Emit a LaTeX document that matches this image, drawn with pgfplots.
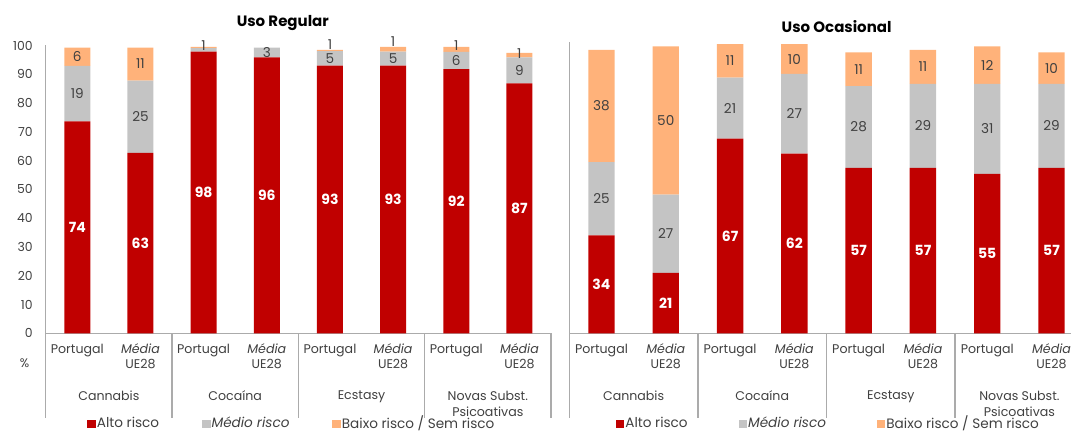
\documentclass[border=0pt]{standalone}
\usepackage{fontspec}
\setmainfont{Poppins}
\usepackage{pgfplots}
\usepackage{pgfplotstable}
\pgfplotsset{compat=1.18}

\definecolor{cred}{HTML}{C00000}
\definecolor{cgray}{HTML}{C4C4C4}
\definecolor{corange}{HTML}{FFB27A}
\definecolor{axgray}{HTML}{ABABAB}
\definecolor{txt}{HTML}{404040}

% x: position; a/m/b: Alto/Medio/Baixo heights; la/lm/lb: printed labels; oa/om/ob: label offsets
\pgfplotstableread{
x a m b la lm lb oa om ob
0 73.6 19.3 6.4 74 19 6 0 0 0
1 62.7 25.1 11.5 63 25 11 0 0 0
2 97.9 1.2 0.4 98 1 {} 0 1.3 0
3 95.9 3.4 0 96 3 {} 0 0 0
4 93 5 0.5 93 5 1 0 0 2
5 93 4.9 1.6 93 5 1 0 0 2.7
6 91.8 6 1.7 92 6 1 0 0 1.4
7 86.8 9.1 1.5 87 9 1 0 0 0.5
}\regdata

\pgfplotstableread{
x a m b la lm lb oa om ob
0 34 25.5 39 34 25 38 0 0 0
1 21 27.2 51.5 21 27 50 0 0 0
2 67.6 21.2 11.7 67 21 11 0 0 0
3 62.4 27.7 10.4 62 27 10 0 0 0
4 57.5 28.4 11.7 57 28 11 0 0 0
5 57.5 29.2 11.8 57 29 11 0 0 0
6 55.4 31.3 13 55 31 12 0 0 0
7 57.5 29.2 10.9 57 29 10 0 0 0
}\ocadata

% labels sit at the middle of each stacked segment; the offset column moves small ones up
\pgfplotsset{
  seglabel/.style={
    nodes near coords,
    point meta=explicit symbolic,
    visualization depends on={\thisrow{#1} \as \segoff},
    every node near coord/.append style={anchor=center, inner sep=0pt,
      yshift={\segoff*1.439pt}},
  },
  sqlegend/.style={legend image code/.code={\fill[##1] (0pt,-2.1pt) rectangle (4.2pt,2.1pt);}},
  panel/.style={
    scale only axis,
    ybar stacked,
    xmin=-0.5, xmax=7.5, ymin=0,
    axis x line*=bottom, axis y line*=left,
    axis line style={axgray, line width=0.6pt},
    xtick={0,...,7},
    xticklabels={Portugal,{\textit{Média}\\UE28},Portugal,{\textit{Média}\\UE28},Portugal,{\textit{Média}\\UE28},Portugal,{\textit{Média}\\UE28}},
    xtick style={draw=none}, ytick style={draw=none},
    xticklabel style={align=center, anchor=north, inner sep=0pt, yshift=-5.2pt,
      font=\fontsize{6.3}{7.5}\selectfont, text=txt},
    clip=false,
    legend columns=3,
    legend style={draw=none, fill=none, inner sep=0pt, outer sep=0pt, anchor=west,
      font=\fontsize{6.8}{8}\selectfont, text=txt,
      nodes={inner sep=0.5pt}},
  },
}

\newcommand{\groupdeco}{%
  \pgfplotsinvokeforeach{-0.5,1.5,3.5,5.5,7.5}{
    \draw[axgray, line width=0.6pt] (axis cs:##1,0) -- ([yshift=-42.3pt]axis cs:##1,0);
  }
  \node[anchor=north, inner sep=0pt, align=center, font=\fontsize{6.3}{8}\selectfont, text=txt] at ([yshift=-28.5pt]axis cs:0.5,0) {Cannabis};
  \node[anchor=north, inner sep=0pt, align=center, font=\fontsize{6.3}{8}\selectfont, text=txt] at ([yshift=-28.5pt]axis cs:2.5,0) {Cocaína};
  \node[anchor=north, inner sep=0pt, align=center, font=\fontsize{6.3}{8}\selectfont, text=txt] at ([yshift=-28.5pt]axis cs:4.5,0) {Ecstasy};
  \node[anchor=north, inner sep=0pt, align=center, font=\fontsize{6.3}{8}\selectfont, text=txt] at ([yshift=-28.5pt]axis cs:6.5,0) {Novas Subst.\\Psicoativas};
}

\begin{document}
\begin{tikzpicture}

% ---------------- Uso Regular ----------------
\begin{axis}[panel,
  at={(22.85pt,48.85pt)}, anchor=south west,
  width=252.65pt, height=143.9pt,
  ymax=100, bar width=13pt,
  ytick={0,10,...,100},
  /pgf/number format/assume math mode=true,
  yticklabel style={anchor=east, inner sep=0pt, xshift=-6.3pt, font=\fontsize{6.2}{7.5}\selectfont, text=txt},
  legend style={at={(0.0827,-0.315)}, /tikz/every even column/.append style={column sep=21pt}},
]
\addplot[fill=cred, draw=none, sqlegend, seglabel={oa},
  every node near coord/.append style={font=\bfseries\fontsize{7}{8}\selectfont, text=white}]
  table[x=x, y=a, meta=la] {\regdata};
\addplot[fill=cgray, draw=none, sqlegend, seglabel={om},
  every node near coord/.append style={font=\fontsize{6.8}{8}\selectfont, text=txt}]
  table[x=x, y=m, meta=lm] {\regdata};
\addplot[fill=corange, draw=none, sqlegend, seglabel={ob},
  every node near coord/.append style={font=\fontsize{6.8}{8}\selectfont, text=txt}]
  table[x=x, y=b, meta=lb] {\regdata};
\legend{Alto risco, \textit{Médio risco}, Baixo risco / Sem risco}
\groupdeco
\end{axis}

% ---------------- Uso Ocasional ----------------
\begin{axis}[panel,
  at={(284.65pt,48.85pt)}, anchor=south west,
  width=257.2pt, height=145.77pt,
  ymax=101.3, bar width=13.2pt,
  ytick=\empty,
  legend style={at={(0.0908,-0.311)}, /tikz/every even column/.append style={column sep=25pt}},
]
\addplot[fill=cred, draw=none, sqlegend, seglabel={oa},
  every node near coord/.append style={font=\bfseries\fontsize{7}{8}\selectfont, text=white}]
  table[x=x, y=a, meta=la] {\ocadata};
\addplot[fill=cgray, draw=none, sqlegend, seglabel={om},
  every node near coord/.append style={font=\fontsize{6.8}{8}\selectfont, text=txt}]
  table[x=x, y=m, meta=lm] {\ocadata};
\addplot[fill=corange, draw=none, sqlegend, seglabel={ob},
  every node near coord/.append style={font=\fontsize{6.8}{8}\selectfont, text=txt}]
  table[x=x, y=b, meta=lb] {\ocadata};
\legend{Alto risco, \textit{Médio risco}, Baixo risco / Sem risco}
\groupdeco
\end{axis}

% titles and unit
\node[font=\bfseries\fontsize{7.5}{9}\selectfont] at (141.4pt,203.85pt) {Uso Regular};
\node[font=\bfseries\fontsize{7.5}{9}\selectfont] at (418.3pt,202pt) {Uso Ocasional};
\node[font=\fontsize{6.2}{7.5}\selectfont, text=txt] at (12.25pt,33.85pt) {\%};

\pgfresetboundingbox
\path[use as bounding box] (0pt,0pt) rectangle (535.5pt,215.5pt);
\end{tikzpicture}
\end{document}
